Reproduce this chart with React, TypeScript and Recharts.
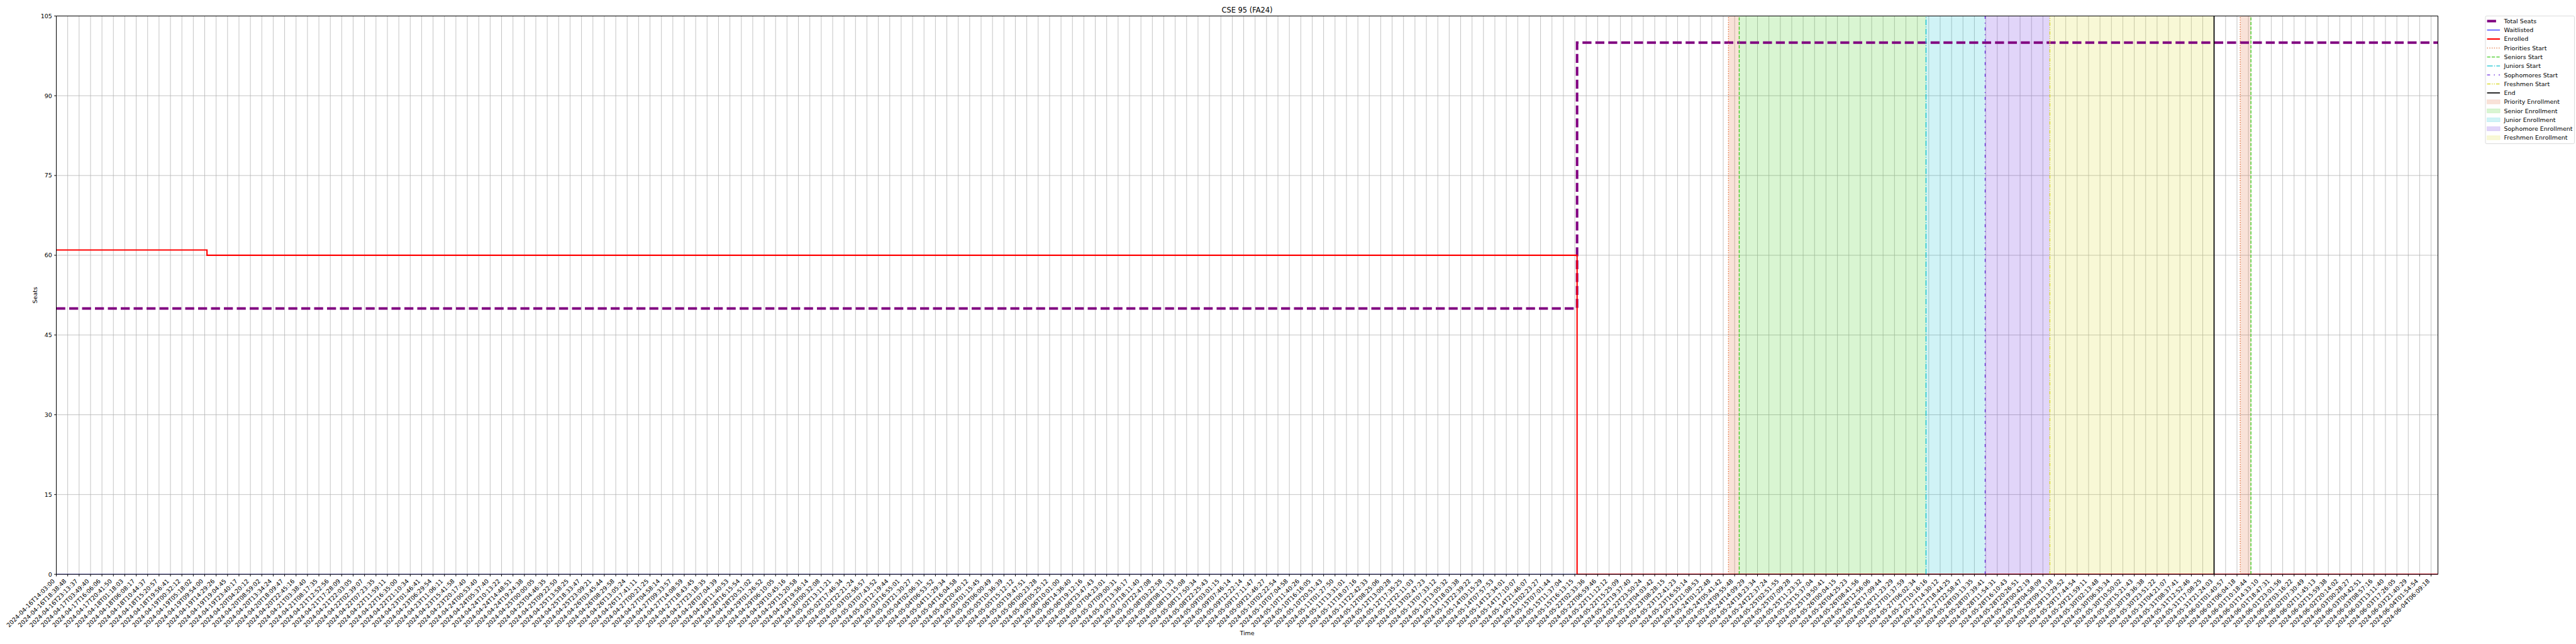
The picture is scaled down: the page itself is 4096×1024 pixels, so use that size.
import React from "react";
import {
  ComposedChart,
  Line,
  XAxis,
  YAxis,
  CartesianGrid,
  ReferenceArea,
  ReferenceLine,
} from "recharts";

const FONT = "DejaVu Sans";

// one label per tick; the x axis runs in "tick units" (fractions between ticks are allowed)
const TICK_LABELS = [
  "2024-04-16T14:03:00", "2024-04-16T18:38:48", "2024-04-16T23:13:37", "2024-04-17T03:49:40", "2024-04-17T16:06:06",
  "2024-04-17T20:41:50", "2024-04-18T01:18:03", "2024-04-18T06:08:17", "2024-04-18T10:44:37", "2024-04-18T15:20:57",
  "2024-04-18T19:56:41", "2024-04-19T00:32:12", "2024-04-19T05:18:02", "2024-04-19T09:54:00", "2024-04-19T14:29:26",
  "2024-04-19T19:04:45", "2024-04-19T23:40:17", "2024-04-20T04:20:12", "2024-04-20T08:59:02", "2024-04-20T13:34:24",
  "2024-04-20T18:09:47", "2024-04-20T22:45:16", "2024-04-21T03:38:40", "2024-04-21T08:17:35", "2024-04-21T12:52:56",
  "2024-04-21T17:28:09", "2024-04-21T22:03:05", "2024-04-22T02:39:07", "2024-04-22T07:23:35", "2024-04-22T11:59:11",
  "2024-04-22T16:35:00", "2024-04-22T21:10:34", "2024-04-23T01:46:41", "2024-04-23T06:29:54", "2024-04-23T11:06:11",
  "2024-04-23T15:41:58", "2024-04-23T20:17:40", "2024-04-24T00:53:40", "2024-04-24T05:37:40", "2024-04-24T10:13:22",
  "2024-04-24T14:48:51", "2024-04-24T19:24:38", "2024-04-25T00:00:05", "2024-04-25T04:46:35", "2024-04-25T09:22:50",
  "2024-04-25T13:58:25", "2024-04-25T18:33:47", "2024-04-25T23:09:21", "2024-04-26T03:45:44", "2024-04-26T08:29:58",
  "2024-04-26T13:05:24", "2024-04-26T17:41:11", "2024-04-27T00:21:25", "2024-04-27T04:58:14", "2024-04-27T09:33:57",
  "2024-04-27T14:08:59", "2024-04-27T18:43:45", "2024-04-27T23:18:35", "2024-04-28T07:04:39", "2024-04-28T11:40:53",
  "2024-04-28T16:15:54", "2024-04-28T20:51:02", "2024-04-29T01:26:52", "2024-04-29T06:10:05", "2024-04-29T10:45:16",
  "2024-04-29T15:20:58", "2024-04-29T19:56:14", "2024-04-30T00:32:08", "2024-05-02T13:11:21", "2024-05-02T17:46:34",
  "2024-05-02T22:21:24", "2024-05-03T02:56:57", "2024-05-03T07:43:52", "2024-05-03T12:19:44", "2024-05-03T16:55:01",
  "2024-05-03T21:30:27", "2024-05-04T02:06:31", "2024-05-04T06:53:52", "2024-05-04T11:29:34", "2024-05-04T16:04:58",
  "2024-05-04T20:40:12", "2024-05-05T01:15:45", "2024-05-05T06:00:49", "2024-05-05T10:36:39", "2024-05-05T15:12:12",
  "2024-05-05T19:47:51", "2024-05-06T00:23:28", "2024-05-06T05:25:12", "2024-05-06T10:01:00", "2024-05-06T14:36:40",
  "2024-05-06T19:12:16", "2024-05-06T23:47:43", "2024-05-07T04:23:01", "2024-05-07T09:00:31", "2024-05-07T13:36:17",
  "2024-05-07T18:11:40", "2024-05-07T22:47:08", "2024-05-08T03:22:58", "2024-05-08T08:11:33", "2024-05-08T13:15:08",
  "2024-05-08T17:50:34", "2024-05-08T22:25:43", "2024-05-09T03:01:15", "2024-05-09T07:46:14", "2024-05-09T12:22:14",
  "2024-05-09T17:11:47", "2024-05-09T21:46:27", "2024-05-10T02:22:54", "2024-05-10T07:04:58", "2024-05-10T11:40:26",
  "2024-05-10T16:16:05", "2024-05-10T20:51:43", "2024-05-11T01:27:50", "2024-05-11T13:31:01", "2024-05-11T18:07:16",
  "2024-05-11T22:42:33", "2024-05-12T08:25:06", "2024-05-12T13:00:28", "2024-05-12T17:35:25", "2024-05-12T22:11:03",
  "2024-05-13T02:47:23", "2024-05-13T07:33:12", "2024-05-13T13:05:32", "2024-05-13T18:03:38", "2024-05-13T22:39:22",
  "2024-05-14T03:15:29", "2024-05-14T07:57:53", "2024-05-14T12:34:01", "2024-05-14T17:10:07", "2024-05-14T21:46:07",
  "2024-05-15T02:23:27", "2024-05-15T07:01:44", "2024-05-15T11:37:04", "2024-05-15T16:13:15", "2024-05-22T02:33:36",
  "2024-05-22T06:59:46", "2024-05-22T11:12:12", "2024-05-22T15:25:09", "2024-05-22T19:37:40", "2024-05-22T23:50:24",
  "2024-05-23T04:03:42", "2024-05-23T08:28:15", "2024-05-23T12:41:23", "2024-05-23T16:55:14", "2024-05-23T21:08:53",
  "2024-05-24T01:22:48", "2024-05-24T05:41:42", "2024-05-24T09:55:48", "2024-05-24T14:09:29", "2024-05-24T18:23:34",
  "2024-05-24T22:37:24", "2024-05-25T02:51:55", "2024-05-25T07:09:28", "2024-05-25T11:23:32", "2024-05-25T15:37:04",
  "2024-05-25T19:50:41", "2024-05-26T00:04:15", "2024-05-26T04:25:23", "2024-05-26T08:41:56", "2024-05-26T12:56:06",
  "2024-05-26T17:09:44", "2024-05-26T21:23:29", "2024-05-27T01:37:59", "2024-05-27T06:02:34", "2024-05-27T10:16:16",
  "2024-05-27T14:30:12", "2024-05-27T18:44:25", "2024-05-27T22:58:47", "2024-05-28T03:13:35", "2024-05-28T07:39:41",
  "2024-05-28T11:54:31", "2024-05-28T16:10:43", "2024-05-28T20:26:51", "2024-05-29T00:42:19", "2024-05-29T04:58:09",
  "2024-05-29T09:13:18", "2024-05-29T13:29:52", "2024-05-29T17:44:54", "2024-05-29T21:59:11", "2024-05-30T02:13:48",
  "2024-05-30T06:35:34", "2024-05-30T10:50:02", "2024-05-30T15:21:43", "2024-05-30T19:36:38", "2024-05-30T23:51:22",
  "2024-05-31T04:21:07", "2024-05-31T08:37:41", "2024-05-31T12:52:46", "2024-05-31T17:08:25", "2024-05-31T21:24:03",
  "2024-06-01T01:40:57", "2024-06-01T06:04:18", "2024-06-01T10:18:44", "2024-06-01T14:33:10", "2024-06-01T18:47:31",
  "2024-06-01T23:01:56", "2024-06-02T03:16:22", "2024-06-02T07:30:49", "2024-06-02T11:45:13", "2024-06-02T15:59:38",
  "2024-06-02T20:14:02", "2024-06-03T00:28:27", "2024-06-03T04:42:51", "2024-06-03T08:57:16", "2024-06-03T13:11:40",
  "2024-06-03T17:26:05", "2024-06-03T21:40:29", "2024-06-04T01:54:54", "2024-06-04T06:09:18",
];
const X_TICKS = TICK_LABELS.map((_, i) => i);
const LAST_ROW = 208.6; // the data runs a bit past the last tick
const SEAT_TICKS = [0, 15, 30, 45, 60, 75, 90, 105];

// step series: value holds from `at` until the next point
const TOTAL_SEATS = [
  { at: 0, seats: 50 },
  { at: 133.2, seats: 100 },
  { at: LAST_ROW, seats: 100 },
];
const WAITLISTED = [
  { at: 0, seats: 0 },
  { at: LAST_ROW, seats: 0 },
];
const ENROLLED = [
  { at: 0, seats: 61 },
  { at: 13.2, seats: 60 },
  { at: 133.2, seats: 0 },
  { at: LAST_ROW, seats: 0 },
];

// enrollment phase markers (tick units)
const PRIORITY_STARTS = [146.46, 191.28];
const SENIOR_STARTS = [147.4, 192.22];
const JUNIOR_STARTS = [163.76];
const SOPHOMORE_STARTS = [168.94];
const FRESHMEN_STARTS = [174.61];
const END_MARKS = [188.99];

const COLORS = {
  total: "#800080",
  waitlisted: "#0000ff",
  enrolled: "#ff0000",
  priority: "#e2703a",
  senior: "#40cc20",
  junior: "#12c2d0",
  sophomore: "#6b2be0",
  freshmen: "#dada30",
  end: "#000000",
};

const DASH = {
  total: "14.3 6.2",
  priority: "1.4 2.3",
  senior: "5.2 2.2",
  junior: "9 2.2 1.4 2.2",
  sophomore: "4.8 6 1.6 6",
  freshmen: "5.5 2 1.4 2 1.4 2",
};

const BANDS = [
  { from: PRIORITY_STARTS[0], to: SENIOR_STARTS[0], color: COLORS.priority },
  { from: SENIOR_STARTS[0], to: JUNIOR_STARTS[0], color: COLORS.senior },
  { from: JUNIOR_STARTS[0], to: SOPHOMORE_STARTS[0], color: COLORS.junior },
  { from: SOPHOMORE_STARTS[0], to: FRESHMEN_STARTS[0], color: COLORS.sophomore },
  { from: FRESHMEN_STARTS[0], to: END_MARKS[0], color: COLORS.freshmen },
  { from: PRIORITY_STARTS[1], to: SENIOR_STARTS[1], color: COLORS.priority },
];

const MARKERS = [
  { xs: PRIORITY_STARTS, color: COLORS.priority, dash: DASH.priority, width: 1.4 },
  { xs: SENIOR_STARTS, color: COLORS.senior, dash: DASH.senior, width: 1.4 },
  { xs: JUNIOR_STARTS, color: COLORS.junior, dash: DASH.junior, width: 1.4 },
  { xs: SOPHOMORE_STARTS, color: COLORS.sophomore, dash: DASH.sophomore, width: 1.4 },
  { xs: FRESHMEN_STARTS, color: COLORS.freshmen, dash: DASH.freshmen, width: 1.4 },
  { xs: END_MARKS, color: COLORS.end, dash: undefined, width: 1.7 },
];

const LEGEND = [
  { label: "Total Seats", color: COLORS.total, width: 4, dash: DASH.total },
  { label: "Waitlisted", color: COLORS.waitlisted, width: 1.1 },
  { label: "Enrolled", color: COLORS.enrolled, width: 2.1 },
  { label: "Priorities Start", color: COLORS.priority, width: 1.4, dash: DASH.priority },
  { label: "Seniors Start", color: COLORS.senior, width: 1.4, dash: DASH.senior },
  { label: "Juniors Start", color: COLORS.junior, width: 1.4, dash: DASH.junior },
  { label: "Sophomores Start", color: COLORS.sophomore, width: 1.4, dash: DASH.sophomore },
  { label: "Freshmen Start", color: COLORS.freshmen, width: 1.4, dash: DASH.freshmen },
  { label: "End", color: COLORS.end, width: 1.7 },
  { label: "Priority Enrollment", color: COLORS.priority, patch: true },
  { label: "Senior Enrollment", color: COLORS.senior, patch: true },
  { label: "Junior Enrollment", color: COLORS.junior, patch: true },
  { label: "Sophomore Enrollment", color: COLORS.sophomore, patch: true },
  { label: "Freshmen Enrollment", color: COLORS.freshmen, patch: true },
];

// plot box in page pixels
const PLOT = { left: 89.5, top: 25.4, right: 3876.5, bottom: 913.2 };

function TimeTick(props: any) {
  const { x, y, payload } = props;
  const ax = x - 1.6;
  const ay = y + 5;
  return (
    <text
      x={ax}
      y={ay}
      transform={`rotate(-45, ${ax}, ${ay})`}
      textAnchor="end"
      fontSize={9.5}
      fontFamily={FONT}
      fill="#000"
    >
      {TICK_LABELS[payload.value] ?? ""}
    </text>
  );
}

function Overlay() {
  const boxX = 3952;
  const boxY = 25.4;
  const rowH = 14.27;
  const handleX = 3954.6;
  const handleW = 20.5;
  return (
    <svg
      width={4096}
      height={1024}
      style={{ position: "absolute", left: 0, top: 0, pointerEvents: "none" }}
    >
      <text
        x={(PLOT.left + PLOT.right) / 2}
        y={19.8}
        textAnchor="middle"
        fontSize={11.4}
        fontFamily={FONT}
        fill="#000"
      >
        CSE 95 (FA24)
      </text>
      <text
        x={(PLOT.left + PLOT.right) / 2}
        y={1010}
        textAnchor="middle"
        fontSize={9.5}
        fontFamily={FONT}
        fill="#000"
      >
        Time
      </text>
      <text
        transform={`translate(58.8, ${(PLOT.top + PLOT.bottom) / 2}) rotate(-90)`}
        textAnchor="middle"
        fontSize={9.5}
        fontFamily={FONT}
        fill="#000"
      >
        Seats
      </text>

      <rect
        x={boxX}
        y={boxY}
        width={141.5}
        height={203.1}
        rx={2}
        fill="#fff"
        fillOpacity={0.8}
        stroke="#cccccc"
        strokeWidth={0.7}
      />
      {LEGEND.map((item, i) => {
        const cy = boxY + 1 + rowH / 2 + i * rowH;
        return (
          <g key={item.label}>
            {item.patch ? (
              <rect
                x={handleX}
                y={cy - 3.2}
                width={handleW}
                height={6.4}
                fill={item.color}
                fillOpacity={0.2}
                stroke={item.color}
                strokeOpacity={0.2}
                strokeWidth={0.7}
              />
            ) : (
              <line
                x1={handleX}
                x2={handleX + handleW}
                y1={cy}
                y2={cy}
                stroke={item.color}
                strokeWidth={item.width}
                strokeDasharray={item.dash}
              />
            )}
            <text
              x={3981.5}
              y={cy + 3.4}
              fontSize={9.5}
              fontFamily={FONT}
              fill="#000"
            >
              {item.label}
            </text>
          </g>
        );
      })}
    </svg>
  );
}

export default function App() {
  return (
    <div
      style={{
        position: "absolute",
        left: 0,
        top: 0,
        width: 4096,
        height: 1024,
        background: "#fff",
        fontFamily: FONT,
      }}
    >
      <ComposedChart
        width={4096}
        height={1024}
        margin={{ top: PLOT.top, right: 4096 - PLOT.right, bottom: 10.8, left: PLOT.left - 60 }}
      >
        <CartesianGrid stroke="#b0b0b0" strokeWidth={0.75} />
        <XAxis
          dataKey="at"
          type="number"
          domain={[0, LAST_ROW]}
          ticks={X_TICKS}
          interval={0}
          allowDataOverflow
          height={100}
          tickSize={3.3}
          tickMargin={3.3}
          stroke="#000"
          tick={<TimeTick />}
        />
        <YAxis
          type="number"
          domain={[0, 105]}
          ticks={SEAT_TICKS}
          interval={0}
          allowDataOverflow
          width={60}
          tickSize={3.3}
          tickMargin={3.3}
          stroke="#000"
          tick={{ fontSize: 9.5, fill: "#000", fontFamily: FONT }}
        />
        {BANDS.map((b, i) => (
          <ReferenceArea
            key={`band-${i}`}
            x1={b.from}
            x2={b.to}
            y1={0}
            y2={105}
            fill={b.color}
            fillOpacity={0.2}
            stroke="none"
          />
        ))}
        <Line
          data={TOTAL_SEATS}
          dataKey="seats"
          type="stepAfter"
          stroke={COLORS.total}
          strokeWidth={4}
          strokeDasharray={DASH.total}
          dot={false}
          activeDot={false}
          isAnimationActive={false}
        />
        <Line
          data={WAITLISTED}
          dataKey="seats"
          type="stepAfter"
          stroke={COLORS.waitlisted}
          strokeWidth={1.1}
          dot={false}
          activeDot={false}
          isAnimationActive={false}
        />
        <Line
          data={ENROLLED}
          dataKey="seats"
          type="stepAfter"
          stroke={COLORS.enrolled}
          strokeWidth={2.1}
          dot={false}
          activeDot={false}
          isAnimationActive={false}
        />
        {MARKERS.flatMap((m, j) =>
          m.xs.map((x, i) => (
            <ReferenceLine
              key={`mark-${j}-${i}`}
              x={x}
              stroke={m.color}
              strokeWidth={m.width}
              strokeDasharray={m.dash}
            />
          )),
        )}
        <ReferenceLine y={105} stroke="#000" strokeWidth={1} />
        <ReferenceLine x={LAST_ROW} stroke="#000" strokeWidth={1} />
      </ComposedChart>
      <Overlay />
    </div>
  );
}
